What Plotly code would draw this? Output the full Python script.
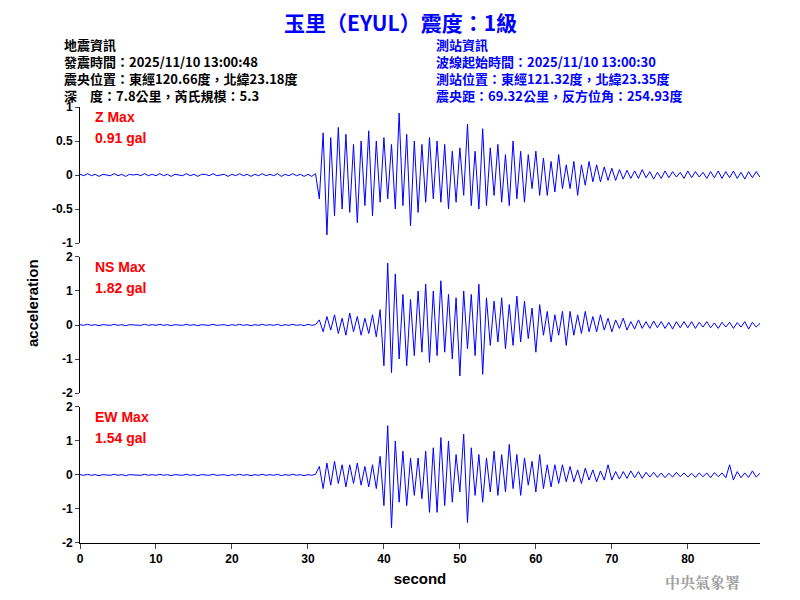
import numpy as np
import plotly.graph_objects as go

dt = 0.5
z_vals = [0.01,-0.01,0.02,-0.01,0.01,-0.02,0.01,0.00,-0.01,0.02,
 -0.01,0.01,-0.02,0.01,0.00,0.01,-0.01,0.02,-0.01,0.01,
 -0.01,0.02,-0.01,0.01,-0.02,0.01,0.00,-0.01,0.02,-0.01,
 0.01,-0.02,0.01,0.01,-0.01,0.02,-0.01,0.00,0.01,-0.02,
 0.01,-0.01,0.02,-0.01,0.01,-0.02,0.01,-0.01,0.02,-0.01,
 0.01,-0.01,0.02,-0.02,0.01,-0.01,0.02,-0.01,0.01,-0.02,
 0.01,-0.02,0.02,-0.35,0.62,-0.88,0.55,-0.6,0.7,-0.5,
 0.6,-0.55,0.45,-0.7,0.5,-0.45,0.65,-0.6,0.5,-0.4,
 0.55,-0.35,0.45,-0.5,0.91,-0.45,0.6,-0.75,0.5,-0.55,
 0.45,-0.4,0.55,-0.35,0.5,-0.4,0.45,-0.5,0.35,-0.4,
 0.4,-0.3,0.75,-0.45,0.35,-0.5,0.68,-0.45,0.4,-0.3,
 0.45,-0.4,0.3,-0.45,0.5,-0.35,0.35,-0.4,0.3,-0.2,
 0.35,-0.3,0.25,-0.3,0.2,-0.25,0.3,-0.2,0.15,-0.2,
 0.2,-0.3,0.15,-0.15,0.2,-0.1,0.15,-0.1,0.12,-0.08,
 0.1,-0.08,0.08,-0.06,0.07,-0.05,0.06,-0.05,0.08,-0.04,
 0.05,-0.06,0.04,-0.05,0.06,-0.04,0.05,-0.03,0.04,-0.05,
 0.06,-0.04,0.05,-0.03,0.04,-0.05,0.05,-0.04,0.06,-0.05,
 0.05,-0.04,0.06,-0.05,0.04,-0.06,0.05,-0.04,0.05,-0.03]
ns_vals = [0.01,-0.01,0.02,-0.01,0.01,-0.02,0.01,0.00,-0.01,0.02,
 -0.01,0.01,-0.02,0.01,0.00,0.01,-0.01,0.02,-0.01,0.01,
 -0.01,0.02,-0.01,0.01,-0.02,0.01,0.00,-0.01,0.02,-0.01,
 0.01,-0.02,0.01,0.01,-0.01,0.02,-0.01,0.00,0.01,-0.02,
 0.01,-0.01,0.02,-0.01,0.01,-0.02,0.01,-0.01,0.02,-0.01,
 0.01,-0.01,0.02,-0.02,0.01,-0.01,0.02,-0.01,0.01,-0.02,
 0.02,-0.01,0.01,0.15,-0.2,0.25,-0.15,0.3,-0.25,0.2,
 -0.3,0.35,-0.2,0.25,-0.3,0.2,-0.25,0.3,-0.35,0.45,
 -1.2,1.82,-1.4,1.5,-1.0,0.9,-1.2,0.75,-0.9,1.0,
 -0.8,1.2,-1.1,1.0,-0.9,1.3,-0.8,0.9,-1.0,0.8,
 -1.5,1.0,-0.7,0.9,-0.9,1.2,-1.45,0.8,-0.6,0.7,
 -0.5,0.8,-0.7,0.6,-0.6,0.85,-0.5,0.7,-0.4,0.5,
 -0.8,0.6,-0.3,0.4,-0.5,0.3,-0.3,0.4,-0.6,0.4,
 -0.3,0.3,-0.25,0.4,-0.2,0.25,-0.2,0.3,-0.15,0.2,
 -0.2,0.15,-0.1,0.2,-0.15,0.1,-0.12,0.15,-0.1,0.1,
 -0.1,0.12,-0.08,0.1,-0.1,0.08,-0.12,0.1,-0.08,0.1,
 -0.08,0.1,-0.1,0.08,-0.06,0.1,-0.08,0.06,-0.1,0.08,
 -0.06,0.08,-0.1,0.07,-0.06,0.1,-0.12,0.08,-0.06,0.05]
ew_vals = [0.01,-0.01,0.02,-0.01,0.01,-0.02,0.01,0.00,-0.01,0.02,
 -0.01,0.01,-0.02,0.01,0.00,0.01,-0.01,0.02,-0.01,0.01,
 -0.01,0.02,-0.01,0.01,-0.02,0.01,0.00,-0.01,0.02,-0.01,
 0.01,-0.02,0.01,0.01,-0.01,0.02,-0.01,0.00,0.01,-0.02,
 0.01,-0.01,0.02,-0.01,0.01,-0.02,0.01,-0.01,0.02,-0.01,
 0.01,-0.01,0.02,-0.02,0.01,-0.01,0.02,-0.01,0.01,-0.02,
 0.01,-0.01,0.02,0.25,-0.4,0.35,-0.3,0.4,-0.25,0.3,
 -0.35,0.3,-0.25,0.35,-0.3,0.25,-0.35,0.3,-0.4,0.55,
 -0.9,1.45,-1.55,1.0,-0.8,0.7,-0.9,0.5,-0.6,0.5,
 -0.7,0.7,-1.1,0.8,-1.1,1.1,-0.9,1.0,-0.8,0.6,
 -0.5,1.2,-1.4,0.8,-0.6,0.6,-0.8,0.5,-0.5,0.7,
 -0.6,0.6,-0.5,0.9,-0.4,0.6,-0.6,0.5,-0.3,0.4,
 -0.5,0.6,-0.4,0.3,-0.35,0.3,-0.25,0.3,-0.2,0.25,
 -0.2,0.15,-0.25,0.2,-0.15,0.15,-0.2,0.12,-0.15,0.3,
 -0.15,0.1,-0.12,0.1,-0.1,0.12,-0.08,0.1,-0.1,0.08,
 -0.06,0.08,-0.07,0.06,-0.08,0.05,-0.06,0.08,-0.05,0.06,
 -0.06,0.05,-0.07,0.06,-0.05,0.06,-0.08,0.07,-0.05,0.06,
 -0.08,0.3,-0.15,0.1,-0.08,0.06,-0.07,0.12,-0.06,0.05]

t = np.arange(len(z_vals)) * dt

fig = go.Figure()
doms = [[0.688, 1.0], [0.344, 0.656], [0.0, 0.312]]
ranges = [[-1, 1], [-2, 2], [-2, 2]]
tick_sets = [([1, 0.5, 0, -0.5, -1], ["1", "0.5", "0", "-0.5", "-1"]),
             ([2, 1, 0, -1, -2], ["2", "1", "0", "-1", "-2"]),
             ([2, 1, 0, -1, -2], ["2", "1", "0", "-1", "-2"])]
tf = dict(size=12, color="black", family="Liberation Sans")
for i, vals in enumerate([z_vals, ns_vals, ew_vals]):
    n = "" if i == 0 else str(i + 1)
    fig.add_trace(go.Scatter(x=t, y=vals, mode="lines", line=dict(color="#0000ff", width=1),
                             xaxis="x" + n, yaxis="y" + n, showlegend=False))
    fig.layout["yaxis" + n] = dict(domain=doms[i], range=ranges[i], anchor="x" + n,
        tickvals=tick_sets[i][0], ticktext=["<b>%s</b>" % s for s in tick_sets[i][1]],
        showgrid=False, zeroline=False,
        showline=True, linecolor="black", ticks="outside", ticklen=4, tickfont=tf)
    fig.layout["xaxis" + n] = dict(range=[0, 89.5], anchor="y" + n, showgrid=False, zeroline=False,
        showline=(i == 2), linecolor="black", ticks="outside" if i == 2 else "",
        tickvals=list(range(0, 90, 10)),
        ticktext=["<b>%d</b>" % v for v in range(0, 90, 10)], showticklabels=(i == 2),
        tickfont=tf,
        title=dict(text="<b>second</b>", font=dict(size=15, color="black"), standoff=8) if i == 2 else None,
        matches="x" if i else None)

def px(x): return (x - 80) / 680
def py(y): return (543 - y) / 436

ann = []
def A(x, y, text, size, color, xanchor="left", font="Noto Sans CJK TC", bold=False, yanchor="middle"):
    ann.append(dict(x=px(x), y=py(y), xref="paper", yref="paper", text=("<b>%s</b>" % text) if bold else text,
                    showarrow=False, xanchor=xanchor, yanchor=yanchor, align="left",
                    font=dict(size=size, color=color, family=font)))

A(400, 22, "玉里（EYUL）震度：1級", 21, "#0000ff", "center", bold=True)
left = ["地震資訊", "發震時間：2025/11/10 13:00:48", "震央位置：東經120.66度，北緯23.18度", "深　度：7.8公里，芮氏規模：5.3"]
right = ["測站資訊", "波線起始時間：2025/11/10 13:00:30", "測站位置：東經121.32度，北緯23.35度", "震央距：69.32公里，反方位角：254.93度"]
A(62, 33, "<br>".join(left), 13, "black", bold=True, yanchor="top")
A(434, 33, "<br>".join(right), 13, "#0000ff", bold=True, yanchor="top")
red = dict(font="Liberation Sans", bold=True)
A(93, 117, "Z Max", 14, "#ff0000", **red)
A(93, 138, "0.91 gal", 14, "#ff0000", **red)
A(93, 267, "NS Max", 14, "#ff0000", **red)
A(93, 288, "1.82 gal", 14, "#ff0000", **red)
A(93, 417, "EW Max", 14, "#ff0000", **red)
A(93, 438, "1.54 gal", 14, "#ff0000", **red)
A(702, 581, "中央氣象署", 15, "#a0a0a0", "center", font="Noto Serif CJK TC, Noto Sans CJK TC", bold=True)
ann.append(dict(x=px(32), y=py(303), xref="paper", yref="paper", xanchor="center", yanchor="middle",
                text="<b>acceleration</b>", textangle=-90, showarrow=False,
                font=dict(size=15, color="black", family="Liberation Sans")))
fig.update_layout(annotations=ann, width=800, height=600, paper_bgcolor="white", plot_bgcolor="white",
                  margin=dict(l=72, r=48, t=99, b=65), font=dict(family="Liberation Sans"))
fig.write_html("out.html")
